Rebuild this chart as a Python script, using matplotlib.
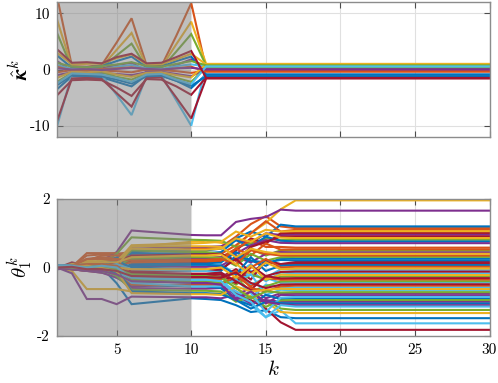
import matplotlib
matplotlib.use("Agg")
import matplotlib.pyplot as plt
import numpy as np

# ---------------- data ----------------
k_top = [1, 2, 3, 4, 5, 6, 7, 8, 9, 10, 11, 30]
kappa_hat = [
    [-3.5, -1.2, -1.3, -1.4, -2.2, -3.0, -1.0, -1.1, -2.0, -3.3, -0.9, -0.9],
    [13.0, 0.6, 0.5, 0.8, 4.8, 9.1, 0.8, 0.6, 6.0, 11.8, 0.1, 0.1],
    [8.9, 0.4, 0.3, 0.5, 3.5, 6.5, 0.6, 0.4, 4.5, 8.5, 1.0, 1.0],
    [1.5, -0.3, -0.2, 0.2, 0.8, 1.2, -0.3, -0.2, 0.8, 1.8, 0.2, 0.2],
    [6.5, 0.2, 0.1, 0.4, 2.5, 4.6, 0.3, 0.2, 3.2, 6.3, 0.7, 0.7],
    [-10.1, -0.8, -0.9, -1.0, -4.5, -8.1, -1.1, -1.0, -5.5, -10.0, 0.5, 0.5],
    [-9.2, -1.6, -1.5, -1.7, -4.2, -6.6, -1.5, -1.4, -5.0, -8.7, -1.6, -1.6],
    [2.5, 0.3, 0.4, 0.6, 1.5, 2.3, 0.4, 0.5, 1.5, 2.3, -0.9, -0.9],
    [-0.5, -0.1, 0.0, -0.2, -0.3, -0.5, 0.0, -0.1, -0.3, -0.6, -0.2, -0.2],
    [3.0, 0.9, 1.0, 1.1, 2.0, 2.7, 0.9, 1.0, 1.8, 2.8, 0.9, 0.9],
    [-1.0, -0.5, -0.4, -0.6, -0.8, -1.0, -0.5, -0.4, -0.8, -1.2, 0.1, 0.1],
    [-2.2, -0.6, -0.7, -0.5, -1.3, -1.8, -0.7, -0.6, -1.5, -2.2, 0.4, 0.4],
    [0.8, 0.1, 0.2, 0.0, 0.5, 0.8, 0.2, 0.1, 0.6, 0.9, 0.6, 0.6],
    [-4.6, -1.9, -1.8, -1.9, -3.2, -4.7, -1.7, -1.8, -3.0, -4.5, -1.4, -1.4],
    [-2.8, -1.0, -1.1, -1.2, -1.8, -2.5, -1.2, -1.1, -2.0, -2.9, -1.2, -1.2],
    [0.5, -0.2, -0.1, 0.1, 0.2, 0.4, 0.0, -0.1, 0.2, 0.5, -0.4, -0.4],
    [-1.5, -0.4, -0.5, -0.3, -0.9, -1.3, -0.6, -0.5, -1.0, -1.4, 0.95, 0.95],
    [0.2, 0.0, 0.1, -0.1, 0.1, 0.3, 0.1, 0.0, 0.2, 0.3, 0.0, 0.0],
    [1.2, 0.5, 0.4, 0.6, 0.9, 1.3, 0.6, 0.5, 1.0, 1.5, 0.75, 0.75],
    [-2.5, -0.7, -0.8, -0.9, -1.5, -2.2, -0.9, -0.8, -1.8, -2.6, 0.55, 0.55],
    [3.6, 1.2, 1.3, 1.1, 2.2, 2.8, 1.1, 1.2, 2.2, 3.3, -1.5, -1.5],
]

k_bot = [1, 2, 3, 4, 5, 6, 10, 11, 12, 13, 14, 15, 16, 17, 30]
theta1 = [
    [0.05, 0.00, 0.05, 0.00, -0.46, -1.07, -0.90, -0.92, -0.95, -1.10, -1.30, -1.25, -1.45, -1.48, -1.48],
    [0.00, 0.03, 0.35, 0.38, 0.40, 0.45, 0.55, 0.56, 0.60, 0.90, 1.27, 1.50, 1.20, 1.15, 1.15],
    [0.00, 0.05, 0.12, 0.15, 0.20, 0.60, 0.75, 0.78, 0.72, 0.62, 1.00, 1.30, 1.70, 1.96, 1.96],
    [0.00, 0.02, 0.10, 0.20, 0.45, 1.08, 0.95, 0.94, 0.94, 1.33, 1.42, 1.47, 1.69, 1.66, 1.66],
    [0.02, -0.02, -0.05, -0.10, -0.20, -0.50, -0.55, -0.55, -0.60, -0.75, -1.00, -0.95, -1.20, -1.24, -1.24],
    [-0.05, 0.00, -0.05, -0.10, -0.30, -0.40, -0.45, -0.45, -0.50, -0.85, -1.10, -1.45, -1.25, -1.63, -1.63],
    [0.00, -0.05, -0.10, -0.15, -0.25, -0.35, -0.40, -0.42, -0.45, -0.70, -0.95, -1.20, -1.60, -1.82, -1.82],
    [0.03, 0.05, 0.10, 0.15, 0.25, 0.45, 0.50, 0.50, 0.55, 0.85, 1.05, 0.90, 1.25, 1.20, 1.20],
    [0.00, 0.02, 0.42, 0.42, 0.42, 0.30, 0.35, 0.36, 0.40, 0.65, 1.00, 1.35, 1.05, 1.10, 1.10],
    [0.00, -0.10, -0.63, -0.63, -0.63, -0.70, -0.77, -0.77, -0.75, -0.60, -0.85, -1.00, -1.30, -1.33, -1.33],
    [0.00, 0.05, 0.08, 0.10, 0.20, 0.55, 0.60, 0.60, 0.62, 0.80, 0.70, 1.00, 0.95, 0.96, 0.96],
    [0.00, 0.02, 0.05, 0.10, 0.40, 0.88, 0.81, 0.80, 0.78, 0.60, 0.70, 0.85, 0.80, 0.81, 0.81],
    [0.05, 0.02, 0.00, -0.05, 0.25, 0.10, 0.05, 0.05, 0.10, -0.20, 0.10, -0.30, -0.05, -0.07, -0.07],
    [-0.02, 0.15, 0.05, 0.00, 0.05, 0.20, 0.15, 0.15, 0.20, 0.50, 0.85, 0.70, 1.00, 1.01, 1.01],
    [0.05, 0.00, 0.10, 0.15, 0.30, 0.40, 0.42, 0.42, 0.45, 0.80, 0.60, 0.90, 0.78, 0.76, 0.76],
    [0.00, 0.05, 0.20, 0.35, 0.35, 0.30, 0.28, 0.28, 0.30, 0.55, 0.80, 0.60, 0.60, 0.58, 0.58],
    [0.00, 0.10, 0.15, 0.20, 0.15, 0.65, 0.70, 0.72, 0.75, 1.05, 0.90, 1.10, 1.05, 1.06, 1.06],
    [-0.05, -0.02, 0.05, 0.05, 0.10, 0.25, 0.25, 0.26, 0.30, 0.40, 0.65, 0.80, 0.72, 0.71, 0.71],
    [0.02, 0.00, -0.05, 0.00, 0.10, 0.50, 0.45, 0.45, 0.40, 0.20, 0.55, 0.35, 0.50, 0.49, 0.49],
    [0.05, 0.00, -0.05, -0.10, -0.05, -0.15, -0.20, -0.20, -0.25, -0.45, -0.10, -0.40, -0.15, -0.17, -0.17],
    [0.00, 0.05, 0.10, 0.05, 0.15, 0.35, 0.38, 0.38, 0.40, 0.20, 0.60, 0.75, 0.90, 0.91, 0.91],
    [0.05, 0.05, 0.00, 0.05, -0.10, 0.10, 0.12, 0.12, 0.15, 0.45, 0.20, 0.05, 0.28, 0.26, 0.26],
    [0.00, -0.05, -0.10, -0.05, 0.05, 0.15, 0.18, 0.18, 0.20, 0.55, 0.35, 0.70, 0.52, 0.53, 0.53],
    [0.00, 0.00, 0.20, 0.25, 0.20, 0.55, 0.52, 0.52, 0.55, 0.85, 0.75, 1.00, 0.87, 0.86, 0.86],
    [0.00, 0.03, 0.00, -0.05, 0.00, 0.05, 0.02, 0.02, 0.05, 0.30, 0.15, 0.40, 0.45, 0.44, 0.44],
    [0.02, 0.00, 0.05, 0.10, 0.05, 0.25, 0.30, 0.30, 0.28, 0.05, 0.40, 0.20, 0.30, 0.31, 0.31],
    [0.05, 0.05, -0.05, -0.10, -0.25, -0.45, -0.40, -0.40, -0.35, -0.15, -0.50, -0.30, -0.45, -0.44, -0.44],
    [0.00, 0.00, -0.05, -0.05, -0.10, -0.25, -0.30, -0.30, -0.28, -0.05, -0.35, 0.20, 0.10, 0.16, 0.16],
    [0.05, 0.05, 0.05, 0.10, 0.20, 0.00, -0.05, -0.05, -0.10, 0.35, 0.20, 0.15, 0.22, 0.21, 0.21],
    [0.00, 0.03, 0.25, 0.30, 0.25, 0.20, 0.22, 0.22, 0.25, 0.10, 0.50, 0.40, 0.35, 0.35, 0.35],
    [0.00, 0.00, 0.05, 0.10, 0.00, 0.62, 0.62, 0.62, 0.60, 0.30, 0.55, 0.45, 0.40, 0.40, 0.40],
    [-0.02, -0.05, -0.10, -0.15, -0.30, -0.55, -0.50, -0.50, -0.52, -0.80, -0.60, -0.90, -0.75, -0.76, -0.76],
    [0.00, -0.05, -0.05, -0.10, -0.20, -0.35, -0.35, -0.35, -0.30, -0.50, -0.20, -0.35, -0.27, -0.26, -0.26],
    [0.05, 0.05, 0.00, -0.05, -0.15, -0.30, -0.38, -0.38, -0.40, -0.70, -0.90, -0.50, -0.60, -0.58, -0.58],
    [0.00, -0.02, 0.00, 0.05, -0.05, -0.10, -0.10, -0.10, -0.05, 0.25, -0.15, 0.15, 0.10, 0.11, 0.11],
    [0.05, 0.00, 0.05, 0.00, 0.05, 0.05, 0.08, 0.08, 0.05, -0.20, 0.30, -0.10, 0.05, 0.07, 0.07],
    [0.00, 0.05, 0.25, 0.25, 0.20, -0.20, -0.25, -0.25, -0.20, -0.45, 0.00, 0.25, 0.00, 0.02, 0.02],
    [0.00, 0.00, 0.15, 0.15, 0.15, 0.30, 0.35, 0.35, 0.38, 0.10, -0.20, 0.15, -0.05, -0.03, -0.03],
    [0.00, -0.03, -0.05, -0.05, -0.15, -0.60, -0.62, -0.62, -0.60, -0.90, -0.70, -1.05, -0.80, -0.81, -0.81],
    [0.02, 0.00, -0.05, -0.10, -0.15, -0.40, -0.42, -0.42, -0.45, -0.30, -0.70, -0.55, -0.41, -0.40, -0.40],
    [0.05, 0.05, 0.00, 0.00, 0.10, -0.05, -0.10, -0.10, -0.15, -0.40, -0.20, -0.80, -0.65, -0.67, -0.67],
    [0.00, -0.05, -0.05, -0.10, -0.05, -0.20, -0.22, -0.22, -0.20, -0.45, 0.05, -0.25, -0.13, -0.12, -0.12],
    [0.05, 0.05, 0.10, 0.05, -0.20, -0.50, -0.55, -0.55, -0.60, -0.95, -1.10, -0.80, -0.92, -0.90, -0.90],
    [0.00, 0.00, -0.05, 0.00, -0.10, -0.50, -0.52, -0.52, -0.50, -0.25, -0.55, -0.30, -0.36, -0.35, -0.35],
    [0.00, 0.05, 0.10, 0.05, 0.00, -0.05, -0.05, -0.05, 0.00, -0.30, 0.05, -0.35, -0.21, -0.22, -0.22],
    [0.00, -0.17, -0.92, -0.92, -1.07, -0.85, -0.87, -0.87, -0.90, -0.80, -1.05, -0.95, -1.00, -1.00, -1.00],
    [0.02, 0.00, 0.00, -0.05, -0.25, -0.65, -0.68, -0.68, -0.70, -1.00, -0.85, -1.15, -0.96, -0.95, -0.95],
    [0.05, 0.05, 0.05, 0.00, -0.10, -0.45, -0.55, -0.55, -0.55, -0.35, -0.75, -1.30, -0.88, -0.86, -0.86],
    [0.00, 0.02, 0.00, -0.05, -0.05, -0.15, -0.18, -0.18, -0.15, -0.40, -0.65, -0.25, -0.32, -0.31, -0.31],
    [0.05, 0.00, 0.05, 0.10, -0.05, -0.70, -0.75, -0.75, -0.78, -0.95, -1.20, -1.00, -1.04, -1.05, -1.05],
    [0.00, 0.05, 0.10, 0.10, 0.05, -0.30, -0.32, -0.32, -0.35, -0.10, -0.60, -0.70, -0.55, -0.53, -0.53],
    [0.00, 0.00, 0.05, 0.00, -0.10, -0.75, -0.78, -0.78, -0.80, -0.55, -0.70, -0.65, -0.62, -0.63, -0.63],
    [0.00, -0.05, -0.10, -0.10, -0.20, -0.40, -0.45, -0.45, -0.50, -0.95, -0.70, -1.00, -1.08, -1.10, -1.10],
    [0.02, 0.00, 0.00, 0.05, -0.05, -0.20, -0.25, -0.25, -0.30, -0.60, -0.90, -0.70, -0.73, -0.72, -0.72],
    [0.05, 0.05, 0.00, 0.05, 0.00, -0.30, -0.35, -0.35, -0.40, -0.80, -1.00, -1.45, -1.10, -1.14, -1.14],
    [0.00, 0.02, -0.05, -0.05, -0.10, -0.25, -0.28, -0.28, -0.30, -0.15, -0.45, -0.60, -0.50, -0.49, -0.49],
]

x_ticks = [5, 10, 15, 20, 25, 30]
top_yticks = [-10, 0, 10]
bot_yticks = [-2, 0, 2]
shade_range = (1, 10)

colors = ['#0072BD', '#D95319', '#EDB120', '#7E2F8E', '#77AC30', '#4DBEEE', '#A2142F']

# ---------------- style ----------------
plt.rcParams['mathtext.fontset'] = 'cm'
plt.rcParams['axes.unicode_minus'] = False

W, H = 498, 383
fig = plt.figure(figsize=(W / 100, H / 100), dpi=100)

left = 57 / W
width = (489.5 - 57) / W
ax1 = fig.add_axes([left, 1 - 137 / H, width, (137 - 2) / H])
ax2 = fig.add_axes([left, 1 - 336 / H, width, (336 - 199) / H])

spine_col = '0.55'


def style(ax, xt, yt, xlabels=True):
    ax.set_xlim(1, 30)
    ax.set_xticks(xt)
    ax.set_yticks(yt)
    ax.grid(True, color='0.88', linewidth=0.8, zorder=0.5)
    ax.set_axisbelow(True)
    for s in ax.spines.values():
        s.set_color(spine_col)
        s.set_linewidth(1.0)
        s.set_zorder(5)
    ax.tick_params(direction='in', length=4, width=0.8, color='0.3',
                   top=True, right=True, labelsize=11, pad=5)
    for lab in ax.get_yticklabels():
        lab.set_fontfamily('cmr10')
    if xlabels:
        for lab in ax.get_xticklabels():
            lab.set_fontfamily('cmr10')
    else:
        ax.set_xticklabels([])


for i, s in enumerate(kappa_hat):
    ax1.plot(k_top, s, color=colors[i % 7], lw=1.5, zorder=1, solid_joinstyle='miter')
ax1.axvspan(*shade_range, color='0.5', alpha=0.5, lw=0, zorder=2)
ax1.set_ylim(-12, 12)
style(ax1, x_ticks, top_yticks, xlabels=False)
ax1.set_ylabel(r'$\hat{\boldsymbol{\kappa}}^k$', fontsize=15)
ax1.yaxis.set_label_coords(-0.06, 0.5)

for i, s in enumerate(theta1):
    ax2.plot(k_bot, s, color=colors[i % 7], lw=1.5, zorder=1, solid_joinstyle='miter')
ax2.axvspan(*shade_range, color='0.5', alpha=0.5, lw=0, zorder=2)
ax2.set_ylim(-2, 2)
style(ax2, x_ticks, bot_yticks, xlabels=True)
ax2.set_ylabel(r'$\theta_1^k$', fontsize=15)
ax2.yaxis.set_label_coords(-0.05, 0.5)
ax2.set_xlabel(r'$k$', fontsize=15, labelpad=2)

fig.savefig('out.png', dpi=100)
